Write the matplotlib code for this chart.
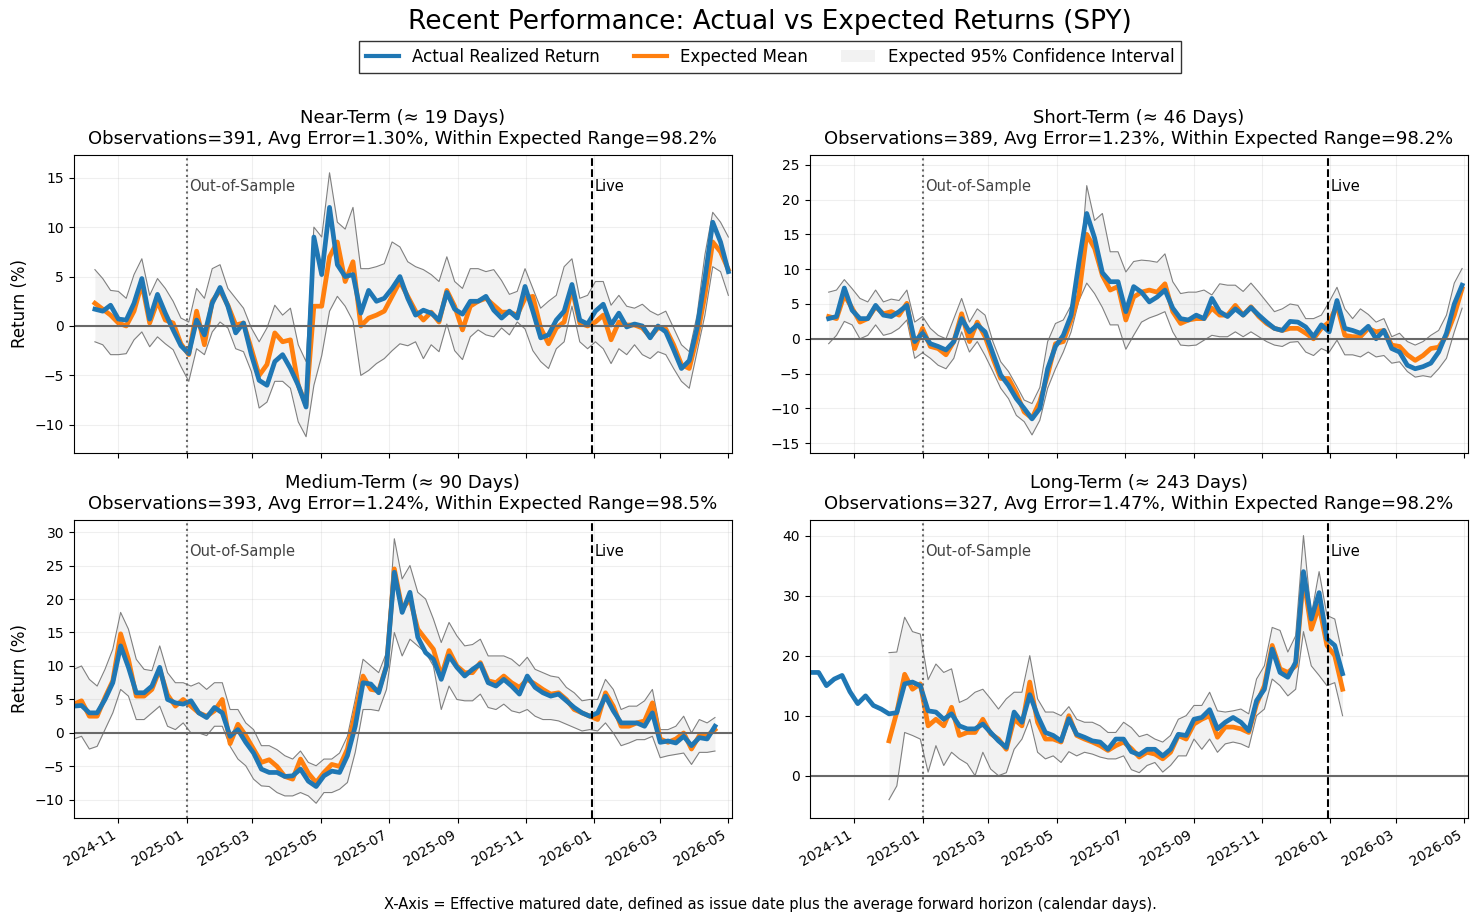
import matplotlib
matplotlib.use("Agg")
import matplotlib.pyplot as plt
import matplotlib.dates as mdates
from matplotlib.lines import Line2D
from matplotlib.patches import Patch
import numpy as np
import pandas as pd

# weekly samples, every series starts at its own date
near_start = "2024-10-11"
near_actual = [1.7, 1.5, 2.1, 0.7, 0.6, 2.3, 4.8, 0.7, 3.2, 1.3, -0.4, -2.0, -2.8, 0.6, -0.9, 2.3, 3.9, 2.0, -0.7, 0.3,
               -2.9, -5.5, -6.0, -3.6, -2.9, -4.3, -6.0, -8.2, 9.0, 5.2, 12.0, 6.2, 5.0, 5.2, 1.3, 3.6, 2.5, 2.8, 3.8, 5.0,
               2.8, 1.1, 1.6, 1.3, 0.6, 3.4, 1.7, 1.2, 2.5, 2.5, 3.0, 1.6, 0.8, 1.5, 0.8, 4.0, 1.5, -1.2, -0.9, 0.6,
               1.5, 4.2, 0.6, 0.2, 1.5, 2.2, 0.1, 1.3, -0.1, 0.2, 0.0, -1.2, 0.0, -0.6, -2.4, -4.3, -3.5, -0.2, 4.8, 10.5,
               8.5, 5.5]
near_mean = [2.3, 1.7, 1.1, 0.3, 0.0, 1.5, 4.3, 0.3, 2.5, 0.6, 0.3, -1.8, -2.9, 1.5, -1.9, 2.5, 3.6, 2.1, 0.1, 0.3,
             -2.3, -5.0, -3.9, -0.7, -1.6, -1.4, -6.0, -8.0, 2.0, 2.0, 7.0, 8.5, 4.5, 6.5, 0.0, 0.8, 1.1, 1.5, 3.0, 4.5,
             3.0, 1.5, 0.6, 1.4, 0.4, 3.6, 2.0, -0.4, 2.0, 2.5, 2.8, 2.1, 1.4, 1.4, 1.1, 2.8, 3.0, -0.2, -1.8, -0.2,
             0.4, 3.8, 0.3, 0.0, 0.4, 1.1, -1.4, 0.4, 0.1, 0.1, -0.2, -1.1, -0.2, -0.3, -1.9, -3.9, -4.3, -1.1, 3.1, 8.5,
             7.5, 5.7]
near_upper = [5.7, 4.8, 3.6, 3.5, 2.8, 5.2, 6.8, 3.1, 4.8, 3.8, 2.5, 0.8, 0.4, 3.8, 2.8, 5.8, 6.2, 3.8, 2.8, 1.8,
              -0.2, -1.6, -0.2, 2.1, 1.1, 1.8, -1.9, -3.6, 10.0, 9.0, 15.5, 10.5, 9.8, 12.0, 5.8, 5.8, 6.0, 6.3, 8.5, 8.0,
              6.5, 6.0, 5.7, 5.2, 4.5, 7.0, 4.5, 3.8, 5.8, 5.8, 5.5, 5.7, 4.6, 3.2, 3.5, 5.8, 3.8, 1.8, 2.5, 3.1,
              6.0, 6.8, 2.8, 3.1, 4.5, 4.5, 2.1, 3.1, 2.0, 1.8, 2.2, 1.5, 1.1, 1.5, -0.2, -1.9, -2.6, 1.1, 7.2, 11.5,
              10.5, 9.0]
near_lower = [-1.6, -1.9, -2.9, -2.9, -2.8, -1.4, -0.6, -2.1, -1.1, -1.8, -2.4, -4.1, -5.6, -2.3, -2.9, -0.6, 0.4, -0.2, -2.3, -2.6,
              -4.6, -8.3, -7.7, -5.6, -5.6, -6.3, -9.7, -11.2, -6.0, -3.0, 1.5, 3.0, 2.0, 0.5, -5.0, -4.5, -3.8, -3.3, -2.5, -1.8,
              -2.0, -1.6, -3.3, -1.9, -2.6, 0.2, -2.5, -3.4, -1.1, -0.4, -0.9, -1.1, -0.2, -0.9, 0.4, -0.3, -2.5, -3.6, -4.3, -2.3,
              -1.6, 2.0, -1.6, -2.3, -1.6, -2.3, -3.8, -2.3, -2.9, -1.9, -2.9, -3.3, -2.6, -2.9, -4.3, -5.6, -6.3, -2.6, 1.1, 6.0,
              5.5, 3.1]

short_start = "2024-10-09"
short_actual = [2.9, 3.2, 7.3, 4.1, 2.9, 2.9, 4.8, 3.4, 3.2, 3.9, 4.8, -0.4, 0.8, -0.7, -1.1, -1.6, -0.4, 2.9, 1.0, 2.0,
                1.0, -2.1, -5.2, -6.7, -8.6, -10.0, -11.5, -10.0, -4.3, -1.1, 0.5, 3.4, 11.0, 18.0, 14.5, 9.5, 8.2, 8.2, 3.9, 7.5,
                6.7, 5.3, 6.0, 7.0, 4.4, 2.9, 2.7, 3.4, 2.9, 5.8, 3.9, 3.2, 4.3, 3.4, 4.5, 3.4, 2.4, 1.5, 1.2, 2.5,
                2.4, 1.7, 0.3, 2.0, 1.0, 5.5, 1.5, 1.2, 0.8, 1.8, 0.0, 1.2, -1.4, -1.9, -3.8, -4.3, -4.0, -3.5, -1.9, 0.8,
                5.0, 7.7]
short_mean = [3.2, 2.9, 6.3, 4.4, 2.4, 2.9, 4.6, 3.6, 3.9, 3.4, 5.1, -1.4, 1.5, -1.1, -1.4, -2.3, -0.4, 3.6, -0.4, 2.4,
              0.3, -2.8, -5.7, -5.7, -7.8, -10.5, -11.4, -9.0, -5.2, -0.7, -0.4, 2.7, 6.3, 15.0, 13.0, 9.1, 7.0, 7.5, 2.7, 6.0,
              6.7, 7.0, 6.7, 7.9, 3.9, 2.2, 2.7, 2.9, 2.9, 4.4, 3.4, 3.4, 4.8, 3.4, 4.6, 3.2, 2.2, 1.5, 1.2, 1.5,
              1.5, 0.8, 0.0, 1.5, 2.4, 4.8, 0.5, 0.3, 0.3, 1.5, 1.0, 1.2, -0.9, -1.1, -2.3, -3.1, -2.4, -1.4, -1.2, 0.5,
              3.4, 7.2]
short_upper = [6.7, 7.0, 8.5, 7.2, 5.8, 5.3, 7.0, 5.3, 5.7, 5.5, 7.0, 2.4, 3.2, 1.5, 0.5, 0.0, 2.9, 5.8, 2.4, 4.3,
               3.4, -0.4, -3.3, -4.7, -6.7, -8.8, -9.3, -7.0, -0.4, 2.2, 2.7, 4.8, 8.0, 22.0, 17.0, 18.0, 12.5, 12.5, 9.6, 11.1,
               11.3, 11.2, 11.0, 12.2, 8.2, 6.5, 6.7, 6.7, 7.0, 6.3, 7.9, 7.7, 7.7, 6.8, 8.0, 6.7, 5.3, 3.9, 4.3, 5.0,
               4.8, 2.9, 2.9, 3.4, 5.3, 7.4, 4.3, 2.9, 4.3, 3.5, 2.4, 2.9, 0.3, 0.8, -0.4, -0.9, -0.4, 0.5, 1.2, 3.4,
               8.0, 10.1]
short_lower = [-0.7, 0.5, 2.5, 2.0, 0.0, 0.5, 2.0, 0.5, 0.8, 1.5, 2.7, -2.8, -2.0, -2.8, -3.8, -4.3, -2.8, 1.0, -1.9, -0.4,
               -2.4, -4.7, -7.1, -8.6, -11.0, -11.9, -13.8, -11.7, -7.1, -4.3, -1.9, 1.0, 5.5, 8.0, 6.5, 4.5, 2.0, 2.0, -1.5, 0.5,
               2.4, 3.0, 3.4, 3.9, 1.0, -0.9, -1.0, -0.9, -0.2, 0.5, 0.3, 0.3, 1.0, 0.3, 1.0, 0.3, -0.4, -0.9, -1.1, -0.5,
               -0.4, -1.9, -2.4, -1.4, -1.9, -0.2, -2.3, -2.3, -2.6, -1.9, -2.6, -2.4, -3.5, -3.3, -4.7, -5.5, -5.3, -5.5, -4.3, -2.8,
               1.0, 4.4]

medium_start = "2024-09-22"
medium_actual = [4.0, 4.1, 3.0, 3.0, 5.0, 7.5, 13.0, 9.8, 6.0, 6.0, 7.0, 9.8, 5.0, 4.5, 4.3, 4.8, 3.0, 2.3, 3.8, 3.0,
                 -0.5, 0.5, -1.4, -3.0, -5.4, -5.9, -5.9, -6.5, -6.4, -5.4, -7.2, -8.0, -6.4, -5.7, -5.9, -3.4, 1.0, 7.5, 7.3, 6.0,
                 10.0, 24.0, 18.0, 21.0, 14.3, 12.0, 11.0, 8.0, 11.5, 9.8, 8.5, 9.5, 10.3, 7.5, 7.0, 8.0, 7.0, 5.8, 8.5, 6.8,
                 6.0, 5.5, 5.8, 4.8, 3.8, 3.0, 2.5, 3.0, 5.5, 3.3, 1.5, 1.5, 1.5, 1.0, 3.0, -1.4, -1.2, -1.5, -0.5, -1.9,
                 -0.7, -0.9, 1.0]
medium_mean = [4.3, 4.8, 2.5, 2.5, 5.3, 7.8, 14.8, 11.0, 5.5, 5.5, 6.5, 9.5, 5.7, 4.0, 5.0, 4.0, 3.0, 2.5, 3.3, 5.0,
               -1.6, 1.3, -0.4, -2.4, -4.4, -4.0, -5.0, -6.5, -6.9, -3.9, -6.0, -7.4, -5.9, -4.7, -5.0, -2.4, 3.0, 8.5, 6.5, 6.3,
               10.0, 24.5, 18.5, 20.0, 15.5, 14.0, 12.5, 8.5, 12.3, 10.0, 9.0, 9.0, 10.5, 7.8, 7.5, 8.5, 7.5, 6.8, 8.0, 7.3,
               6.5, 5.8, 6.0, 5.0, 3.5, 3.0, 2.5, 2.0, 6.0, 4.0, 1.0, 1.0, 1.5, 1.8, 4.5, -0.9, -1.4, -0.9, 0.0, -2.4,
               -0.4, -0.4, 0.5]
medium_upper = [9.5, 10.0, 8.0, 7.0, 9.5, 12.5, 18.0, 15.5, 11.0, 9.5, 9.3, 13.0, 9.0, 7.5, 7.5, 7.0, 7.5, 6.5, 7.5, 7.5,
                3.5, 3.5, 1.5, 0.5, -1.9, -1.9, -2.5, -3.4, -3.9, -2.7, -4.4, -4.9, -3.9, -3.9, -3.0, -0.5, 5.0, 11.0, 10.0, 9.0,
                12.0, 29.0, 23.0, 25.0, 21.0, 20.0, 17.0, 13.5, 16.5, 14.5, 13.0, 13.2, 14.0, 11.5, 11.5, 11.5, 11.0, 10.0, 11.3, 9.5,
                9.0, 8.5, 8.3, 6.8, 6.0, 4.8, 5.0, 5.0, 8.0, 6.5, 3.5, 4.0, 4.0, 4.8, 6.5, 0.5, 0.5, 1.0, 2.5, 0.0,
                2.0, 1.5, 2.3]
medium_lower = [-0.9, -0.5, -2.4, -2.0, 0.5, 3.0, 6.5, 5.5, 2.0, 2.0, 3.0, 4.0, 1.0, 0.5, 1.5, 0.0, 0.0, -0.4, 1.0, 1.0,
                -2.0, -3.9, -4.9, -6.9, -7.9, -8.0, -8.9, -9.4, -9.4, -8.9, -9.4, -10.5, -8.9, -8.9, -8.4, -7.4, -2.9, 3.5, 3.5, 3.3,
                6.5, 15.0, 11.5, 14.0, 13.0, 12.0, 10.0, 3.5, 7.0, 5.0, 4.8, 4.8, 5.8, 3.8, 3.5, 4.3, 3.3, 3.0, 3.5, 2.5,
                2.0, 2.0, 1.8, 1.3, 0.8, 0.3, 0.5, 0.3, 1.5, 0.0, -1.9, -1.5, -1.0, -1.0, -0.5, -3.7, -3.4, -3.2, -3.0, -4.7,
                -2.9, -2.9, -2.7]

# long-term: the expected band only begins in late November 2024
nan = np.nan
long_start = "2024-09-23"
long_actual = [17.2, 17.2, 15.0, 16.1, 16.7, 14.0, 12.0, 13.3, 11.7, 11.1, 10.3, 10.5, 15.3, 15.6, 15.0, 10.8, 10.6, 9.4, 10.3, 8.3,
               7.8, 7.8, 8.6, 7.2, 5.8, 4.7, 10.6, 8.9, 13.5, 10.0, 7.2, 6.7, 5.8, 9.5, 6.9, 6.4, 5.8, 5.6, 4.4, 6.1,
               6.1, 4.0, 3.5, 4.4, 4.4, 3.3, 4.4, 6.9, 6.7, 9.4, 9.7, 11.0, 7.8, 8.9, 9.7, 8.9, 7.5, 12.5, 14.4, 21.1,
               17.2, 16.4, 18.9, 34.0, 26.1, 30.5, 22.8, 21.7, 17.0]
long_mean = [nan, nan, nan, nan, nan, nan, nan, nan, nan, nan, 5.8, 10.6, 16.9, 14.4, 15.3, 8.3, 9.4, 8.3, 11.4, 6.7,
             7.2, 7.2, 9.4, 7.0, 6.1, 4.4, 9.4, 8.3, 15.6, 8.9, 6.1, 6.1, 5.6, 10.0, 6.7, 6.1, 5.6, 5.0, 4.2, 5.0,
             5.6, 4.5, 3.1, 3.9, 3.6, 2.8, 3.9, 6.7, 6.1, 8.6, 9.4, 10.0, 6.4, 8.1, 8.1, 7.8, 7.2, 11.9, 15.0, 21.7,
             17.8, 17.2, 18.3, 33.0, 24.4, 28.3, 21.7, 20.0, 14.4]
long_upper = [nan, nan, nan, nan, nan, nan, nan, nan, nan, nan, 20.5, 20.6, 26.4, 24.0, 23.6, 16.0, 18.6, 17.2, 17.8, 12.2,
              12.8, 13.9, 14.4, 12.8, 11.1, 12.8, 13.9, 13.9, 20.0, 12.8, 10.6, 10.6, 10.0, 11.5, 9.4, 8.9, 8.9, 8.3, 7.2, 7.2,
              8.9, 8.0, 6.5, 6.9, 6.1, 5.6, 6.7, 9.4, 10.0, 11.7, 11.7, 13.9, 10.8, 10.6, 10.8, 11.1, 10.3, 16.1, 18.3, 24.7,
              24.2, 20.6, 23.3, 40.0, 26.7, 34.0, 26.7, 26.1, 20.0]
long_lower = [nan, nan, nan, nan, nan, nan, nan, nan, nan, nan, -4.0, -1.7, 7.2, 6.7, 6.1, 0.6, 5.0, 1.7, 3.9, 2.8,
              2.0, 0.0, 3.9, 1.1, 0.0, 0.5, 4.4, 6.1, 9.4, 3.9, 2.8, 3.3, 2.2, 4.0, 3.3, 3.9, 3.6, 3.1, 2.8, 2.8,
              3.3, 1.0, 0.5, 1.7, 2.2, 0.6, 1.7, 3.3, 3.3, 6.1, 4.4, 6.1, 3.9, 5.3, 5.6, 5.3, 4.7, 10.0, 11.1, 16.1,
              15.0, 13.3, 14.4, 24.0, 18.3, 16.7, 15.0, 15.5, 10.0]

panel_titles = ["Near-Term (\u2248 19 Days)", "Short-Term (\u2248 46 Days)",
                "Medium-Term (\u2248 90 Days)", "Long-Term (\u2248 243 Days)"]
observations = [391, 389, 393, 327]
avg_errors = [1.30, 1.23, 1.24, 1.47]
within_range = [98.2, 98.2, 98.5, 98.2]

oos_date = pd.Timestamp("2025-01-01")
live_date = pd.Timestamp("2025-12-30")


def draw_panel(ax, start, actual, mean, upper, lower, title, ylim):
    dates = pd.date_range(start, periods=len(actual), freq="7D")
    ax.fill_between(dates, lower, upper, color="lightgray", alpha=0.28, linewidth=0)
    ax.plot(dates, upper, color="gray", lw=0.8)
    ax.plot(dates, lower, color="gray", lw=0.8)
    ax.plot(dates, mean, color="tab:orange", lw=3.4)
    ax.plot(dates, actual, color="tab:blue", lw=3.4)
    ax.axhline(0, color="dimgray", lw=1.5)
    ax.axvline(oos_date, color="dimgray", ls=":", lw=1.5)
    ax.axvline(live_date, color="black", ls="--", lw=1.5)
    trans = ax.get_xaxis_transform()
    ax.text(oos_date + pd.Timedelta(days=2), 0.895, "Out-of-Sample", transform=trans,
            color="#444444", fontsize=10.5, va="center")
    ax.text(live_date + pd.Timedelta(days=2), 0.895, "Live", transform=trans,
            color="black", fontsize=10.5, va="center")
    ax.set_title(title, fontsize=13, pad=8)
    ax.set_ylim(ylim)
    ax.grid(True, alpha=0.2)


fig, axes = plt.subplots(2, 2, figsize=(14.77, 9.22), dpi=100, sharex=True)
plt.subplots_adjust(left=0.0499, right=0.9937, top=0.8319, bottom=0.1128, wspace=0.1185, hspace=0.2248)

series = [
    (near_start, near_actual, near_mean, near_upper, near_lower, (-12.85, 17.3)),
    (short_start, short_actual, short_mean, short_upper, short_lower, (-16.4, 26.4)),
    (medium_start, medium_actual, medium_mean, medium_upper, medium_lower, (-12.7, 31.8)),
    (long_start, long_actual, long_mean, long_upper, long_lower, (-7.05, 42.6)),
]

for i, ax in enumerate(axes.flat):
    start, actual, mean, upper, lower, ylim = series[i]
    title = "{0}\nObservations={1}, Avg Error={2:.2f}%, Within Expected Range={3:.1f}%".format(
        panel_titles[i], observations[i], avg_errors[i], within_range[i])
    draw_panel(ax, start, actual, mean, upper, lower, title, ylim)

for ax in axes[:, 0]:
    ax.set_ylabel("Return (%)", fontsize=12)

axes[1, 0].set_xlim(pd.Timestamp("2024-09-22"), pd.Timestamp("2026-05-04"))
for ax in axes[1, :]:
    ax.xaxis.set_major_locator(mdates.MonthLocator(bymonth=[1, 3, 5, 7, 9, 11]))
    ax.xaxis.set_major_formatter(mdates.DateFormatter("%Y-%m"))
    for lbl in ax.get_xticklabels():
        lbl.set_rotation(30)
        lbl.set_ha("right")

# the header and footer sit centred over the plotting area, not the figure
mid_x = 0.5215
fig.suptitle("Recent Performance: Actual vs Expected Returns (SPY)", fontsize=19, x=mid_x, y=0.99)

handles = [Line2D([0], [0], color="tab:blue", lw=3),
           Line2D([0], [0], color="tab:orange", lw=3),
           Patch(facecolor="lightgray", alpha=0.28)]
labels = ["Actual Realized Return", "Expected Mean", "Expected 95% Confidence Interval"]
fig.legend(handles, labels, loc="center", ncol=3, bbox_to_anchor=(mid_x, 0.938), fontsize=12,
           frameon=True, fancybox=False, edgecolor="black")

fig.text(mid_x, 0.0195, "X-Axis = Effective matured date, defined as issue date plus the average "
         "forward horizon (calendar days).", ha="center", va="center", fontsize=10.5)

plt.savefig("out.png", dpi=100)
